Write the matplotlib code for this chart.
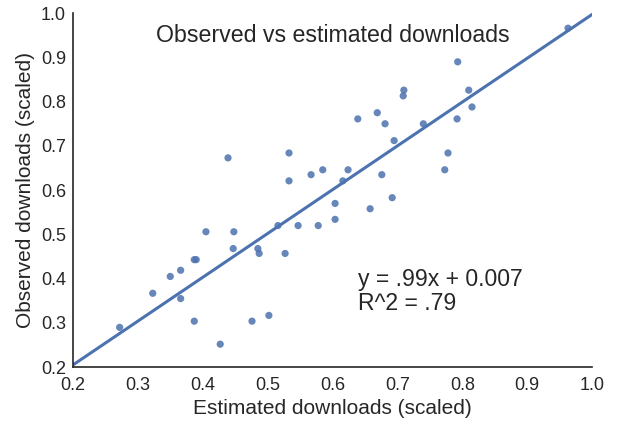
import numpy as np
import matplotlib
matplotlib.use("Agg")
import matplotlib.pyplot as plt

# estimated (x) vs observed (y) downloads, scaled
estimated = [0.272, 0.323, 0.350, 0.366, 0.366, 0.387, 0.390, 0.387, 0.405, 0.427,
             0.439, 0.447, 0.448, 0.476, 0.485, 0.487, 0.502, 0.516, 0.527, 0.533,
             0.533, 0.547, 0.567, 0.578, 0.585, 0.604, 0.604, 0.616, 0.624, 0.639,
             0.658, 0.669, 0.676, 0.681, 0.692, 0.695, 0.709, 0.710, 0.740, 0.773,
             0.778, 0.792, 0.793, 0.810, 0.815, 0.963]
observed = [0.290, 0.367, 0.405, 0.419, 0.355, 0.443, 0.443, 0.304, 0.506, 0.252,
            0.673, 0.468, 0.506, 0.304, 0.468, 0.457, 0.317, 0.520, 0.457, 0.684,
            0.621, 0.520, 0.635, 0.520, 0.646, 0.570, 0.534, 0.621, 0.646, 0.761,
            0.558, 0.775, 0.635, 0.750, 0.583, 0.712, 0.813, 0.826, 0.750, 0.646,
            0.684, 0.761, 0.890, 0.826, 0.788, 0.966]

slope = 0.99
intercept = 0.007
r2 = 0.79

plt.rcParams['font.family'] = ['Liberation Sans', 'DejaVu Sans']
color = '#4C72B0'
dark = '#262626'

fig = plt.figure(figsize=(6.18, 4.24), dpi=100)
ax = fig.add_axes([0.118, 0.134, 0.840, 0.835])

ax.scatter(estimated, observed, s=27, color=color, alpha=0.85,
           edgecolors='none', zorder=3)
xs = np.array([0.2, 1.0])
ax.plot(xs, slope * xs + intercept, color=color, linewidth=2.2, zorder=2)

ax.set_xlim(0.2, 1.0)
ax.set_ylim(0.2, 1.0)
ax.set_xticks(np.arange(0.2, 1.01, 0.1))
ax.set_yticks(np.arange(0.2, 1.01, 0.1))
ax.tick_params(length=0, labelsize=13, colors=dark)
ax.tick_params(axis='x', pad=7)
ax.tick_params(axis='y', pad=5)
for side in ['top', 'right']:
    ax.spines[side].set_visible(False)
for side in ['left', 'bottom']:
    ax.spines[side].set_color(dark)
    ax.spines[side].set_linewidth(1.2)

ax.set_xlabel('Estimated downloads (scaled)', fontsize=15, color=dark, labelpad=4)
ax.set_ylabel('Observed downloads (scaled)', fontsize=15, color=dark, labelpad=4)

ax.text(0.601, 0.95, 'Observed vs estimated downloads', fontsize=16.7,
        color=dark, ha='center', va='center')
ax.text(0.639, 0.371, 'y = .99x + 0.007\nR^2 = .79', fontsize=16.6,
        color=dark, ha='left', va='center', linespacing=1.05)

fig.savefig('out.png', dpi=100)
